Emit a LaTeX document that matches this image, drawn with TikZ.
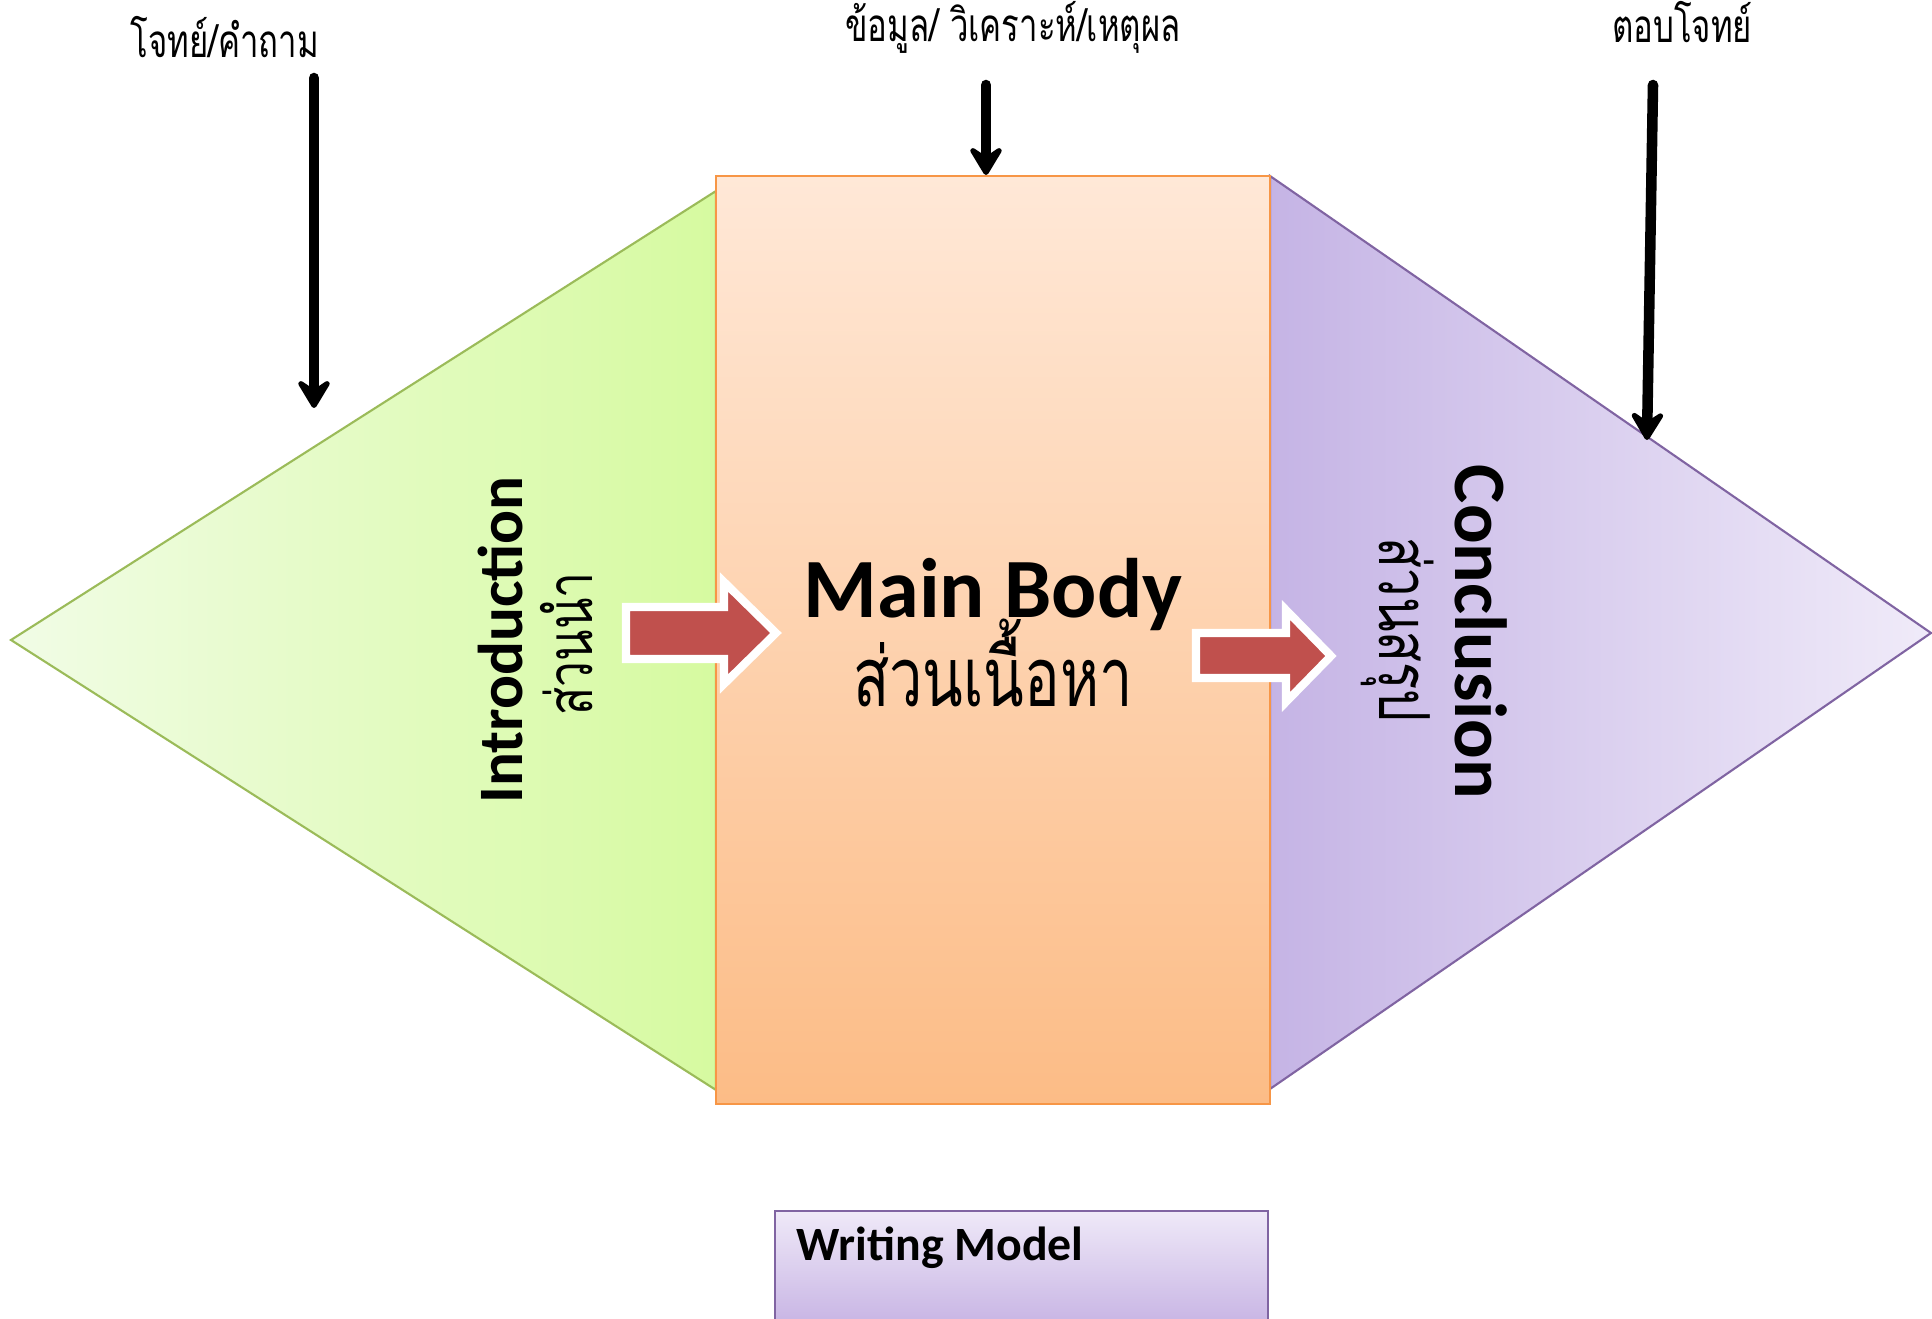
\documentclass[tikz,border=0pt]{standalone}
\usepackage{fontspec}
\setmainfont{Carlito}
\newfontfamily\thaifont[Script=Thai, FakeStretch=0.72]{Loma}
\usepackage{xcolor}
\usetikzlibrary{arrows.meta}

\definecolor{introL}{RGB}{241,252,230}
\definecolor{introR}{RGB}{214,250,160}
\definecolor{introline}{RGB}{155,187,89}
\definecolor{bodyT}{RGB}{255,232,215}
\definecolor{bodyB}{RGB}{252,188,134}
\definecolor{bodyline}{RGB}{247,150,70}
\definecolor{conclL}{RGB}{197,180,229}
\definecolor{conclR}{RGB}{240,235,249}
\definecolor{concline}{RGB}{128,100,162}
\definecolor{modelT}{RGB}{239,233,248}
\definecolor{modelB}{RGB}{198,178,227}
\definecolor{blockred}{RGB}{192,80,77}

\begin{document}
\begin{tikzpicture}[x=0.01cm, y=-0.01cm,
  >={Stealth[length=10pt, width=12pt, inset=4pt, round]},
  toplabel/.style={font=\thaifont\fontsize{13}{15}\selectfont, anchor=base, inner sep=0pt},
  pointer/.style={->, line width=3pt, line cap=round},
  blockarrow/.style={fill=blockred, draw=white, line width=2.3pt, miter limit=4},
  engtitle/.style={font=\bfseries\fontsize{#1}{#1}\selectfont, anchor=base, inner sep=0pt},
  thaititle/.style={font=\thaifont\fontsize{#1}{#1}\selectfont, anchor=base, inner sep=0pt}]

  \clip (0,0) rectangle (1932,1319);

  % Three parts
  \draw[introline, line width=0.6pt, left color=introL, right color=introR]
    (11,640) -- (716,191) -- (716,1090) -- cycle;
  \draw[concline, line width=0.6pt, left color=conclL, right color=conclR]
    (1270,176) -- (1931,633) -- (1270,1089) -- cycle;
  \draw[bodyline, line width=0.5pt, top color=bodyT, bottom color=bodyB]
    (716,176) rectangle (1270,1104);

  % Block arrows between the parts
  \draw[blockarrow] (626,607) -- (724,607) -- (724,582) -- (776,633) -- (724,684)
    -- (724,659) -- (626,659) -- cycle;
  \draw[blockarrow] (1196,633) -- (1286,633) -- (1286,610) -- (1331,656) -- (1286,702)
    -- (1286,678) -- (1196,678) -- cycle;

  % Titles
  \node[engtitle=18, rotate=90] (intro) at (522,640) {Introduction};
  \node[thaititle=18.2, rotate=90] (introth) at (592,644) {ส่วนนำ};
  \node[engtitle=24] (body) at (993,618) {Main Body};
  \node[thaititle=23.5] (bodyth) at (993,707) {ส่วนเนื้อหา};
  \node[engtitle=21, rotate=-90] (concl) at (1455,632) {Conclusion};
  \node[thaititle=20, rotate=-90] (conclth) at (1379,630) {ส่วนสรุป};

  % Labels on top
  \node[toplabel] (question) at (225,58) {โจทย์/คำถาม};
  \node[toplabel] (analysis) at (1013,42) {ข้อมูล/ วิเคราะห์/เหตุผล};
  \node[toplabel] (answer) at (1682,43) {ตอบโจทย์};

  \coordinate (qs) at (314,78);
  \coordinate (qe) at (314,408);
  \coordinate (as) at (986,85);
  \coordinate (ae) at (986,175);
  \coordinate (ws) at (1653,85);
  \coordinate (we) at (1647,440);

  \draw[pointer] (qs) -- (qe);
  \draw[pointer] (as) -- (ae);
  \draw[pointer] (ws) -- (we);

  % Caption box
  \draw[concline, line width=0.7pt, top color=modelT, bottom color=modelB]
    (775,1211) rectangle (1268,1330);
  \node[engtitle=13.6, anchor=base west] (model) at (796,1261) {Writing Model};

\end{tikzpicture}
\end{document}
